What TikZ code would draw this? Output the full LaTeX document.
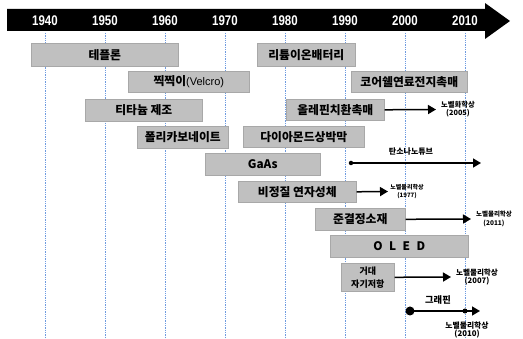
\documentclass[tikz,border=0pt]{standalone}
\usepackage{fontspec}
\newfontfamily\kr{Noto Sans CJK KR}
\newfontfamily\ls{Liberation Sans}
\newfontfamily\yr{Liberation Sans}[FakeStretch=0.82]
\usetikzlibrary{arrows.meta}
\definecolor{boxfill}{HTML}{C0C0C0}
\definecolor{boxline}{HTML}{A8A8A8}
\definecolor{gridblue}{HTML}{6E9BE0}
\tikzset{
  bx/.style={draw=boxline, line width=0.6pt, fill=boxfill, inner sep=0pt, font=\kr\bfseries\fontsize{11.8}{13}\selectfont},
  yearlbl/.style={text=white, font=\yr\bfseries\fontsize{14}{15}\selectfont},
  grid/.style={gridblue, dash pattern=on 1.3pt off 1pt, line width=0.9pt},
  nobel/.style={align=center, inner sep=0pt},
  arr/.style={-{Triangle[length=8pt,width=9pt]}, line width=1.5pt},
  lbl/.style={inner sep=0pt},
  dot/.style={circle, fill=black, inner sep=0pt}
}
\newcommand{\nfont}[1]{\kr\bfseries\fontsize{#1}{#1}\selectfont}
\newcommand{\bxat}[6]{% name, x1, y1, x2, y2, text
  \node[bx, minimum width={#4-#2}, minimum height={#5-#3}, anchor=north west] (#1) at (#2,#3) {#6};}
\begin{document}
\begin{tikzpicture}[x=1pt, y=-1pt]
\useasboundingbox (0,0) rectangle (523,339);
% banner
\fill[black] (7,9) -- (485,9) -- (485,3) -- (510,21) -- (485,39) -- (485,31) -- (7,31) -- cycle;
\foreach \yy [count=\i from 0] in {1940,1950,1960,1970,1980,1990,2000,2010} {
  \node[yearlbl] (y\yy) at (45+60*\i,20.5) {\yy};
  \coordinate (t\yy) at (45+60*\i,33);
  \coordinate (b\yy) at (45+60*\i,339);
  \draw[grid] (t\yy) -- (b\yy);
}
% boxes
\bxat{teflon}{31}{43}{178}{66}{테플론}
\bxat{liion}{257}{43}{355}{66}{리튬이온배터리}
\bxat{velcro}{128}{71}{249}{92}{찍찍이{\mdseries\ls\fontsize{11}{12}\selectfont(Velcro)}}
\bxat{coreshell}{351}{71}{467}{92}{코어쉘연료전지촉매}
\bxat{titan}{85}{99}{202}{121}{티타늄 제조}
\bxat{olefin}{286}{99}{384}{120}{올레핀치환촉매}
\bxat{pc}{137}{126}{228}{148}{폴리카보네이트}
\bxat{dlc}{243}{126}{364}{147}{다이아몬드상박막}
\bxat{gaas}{205}{153}{320}{175}{GaAs}
\bxat{amorph}{238}{181}{356}{202}{비정질 연자성체}
\bxat{quasi}{315}{208}{405}{230}{준결정소재}
\bxat{oled}{330}{235}{468}{257}{O\hspace{0.55em}L\hspace{0.55em}E\hspace{0.55em}D}
\node[bx, minimum width=53, minimum height=28, anchor=north west, align=center, font=\kr\bfseries\fontsize{9}{13}\selectfont] (gmr) at (341,263) {거대\\자기저항};
% nobel labels
\node[nobel, font=\nfont{7.3}] (n2005) at (458,109) {노벨화학상\\[1pt](2005)};
\node[nobel, font=\nfont{6}] (n1977) at (407,191.5) {노벨물리학상\\[2pt](1977)};
\node[nobel, font=\nfont{6.5}] (n2011) at (494,219) {노벨물리학상\\[2pt](2011)};
\node[nobel, font=\nfont{7.6}] (n2007) at (477,277) {노벨물리학상\\[1pt](2007)};
\node[nobel, font=\nfont{7.8}] (n2010) at (467,330) {노벨물리학상\\[1pt](2010)};
% arrows
\draw[arr] (olefin.east) -- (436,109.5);
\draw[arr] (amorph.east) -- (388,191.5);
\draw[arr] (quasi.east) -- (471,219);
\draw[arr] (gmr.east) -- (451,277);
% carbon nanotube
\node[dot, minimum size=4.5pt] (cnt0) at (351,163) {};
\coordinate (cnt1) at (481,163);
\draw[arr] (cnt0.center) -- (cnt1);
\node[lbl, font=\nfont{8}] (cntl) at (411,152) {탄소나노튜브};
% graphene
\node[dot, minimum size=9pt] (gr0) at (410,311) {};
\node[dot, minimum size=5pt] (gr1) at (465,311) {};
\coordinate (gr2) at (480,311);
\draw[arr] (gr0.center) -- (gr2);
\node[lbl, font=\nfont{9.3}] (grl) at (438,300) {그래핀};
\end{tikzpicture}
\end{document}
